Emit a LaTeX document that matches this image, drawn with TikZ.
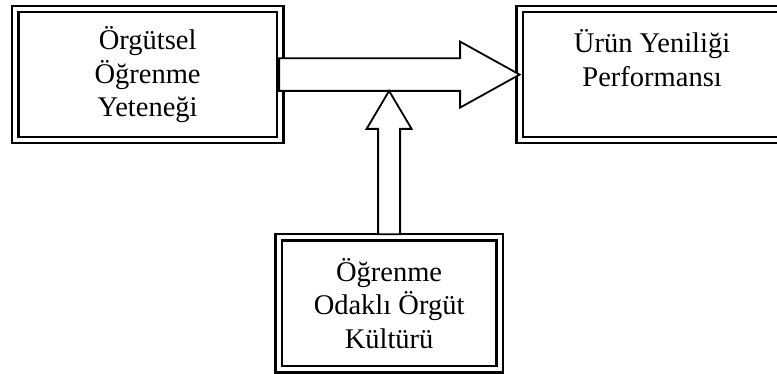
\documentclass[tikz,border=0pt]{standalone}
\usepackage{fontspec}
\setmainfont{Liberation Serif}
\usepackage{tikz}
\usetikzlibrary{positioning}

\begin{document}
\begin{tikzpicture}[
  x=1pt, y=1pt,
  every node/.style={font=\fontsize{28.5}{33.5}\selectfont},
  box/.style={rectangle, draw, double, line width=2.4pt, double distance=4pt,
              outer sep=0pt, align=center, minimum width=265pt, minimum height=131pt},
  blockarrow/.style={draw, fill=white, line width=1.8pt},
]
\clip (0,0) rectangle (777,374);
\node[box] (lft) at (147.6,299.4) {Örgütsel\\Öğrenme\\Yeteneği};
\node[box, right=239.5pt of lft] (rgt) {Ürün Yeniliği\\Performansı\\\mbox{}};
\node[box, minimum width=221pt, minimum height=132pt,
      below right=97.4pt and -1.5pt of lft] (bot) {Öğrenme\\Odaklı Örgüt\\Kültürü};
\draw[blockarrow] ([xshift=-1pt,yshift=16.3pt]lft.east)
  -- ([xshift=-59.5pt,yshift=16.3pt]rgt.west)
  -- ([xshift=-59.5pt,yshift=33pt]rgt.west)
  -- (rgt.west)
  -- ([xshift=-59.5pt,yshift=-33pt]rgt.west)
  -- ([xshift=-59.5pt,yshift=-16.3pt]rgt.west)
  -- ([xshift=-1pt,yshift=-16.3pt]lft.east) coordinate (shaftbot)
  -- cycle;
\coordinate (tip) at (bot.north |- shaftbot);
\coordinate (base) at ([yshift=-38pt]tip);
\draw[blockarrow] (tip)
  -- ([xshift=22.5pt]base)
  -- ([xshift=11pt]base)
  -- ([xshift=11pt,yshift=3.2pt]bot.north)
  -- ([xshift=-11pt,yshift=3.2pt]bot.north)
  -- ([xshift=-11pt]base)
  -- ([xshift=-22.5pt]base)
  -- cycle;
\end{tikzpicture}
\end{document}
